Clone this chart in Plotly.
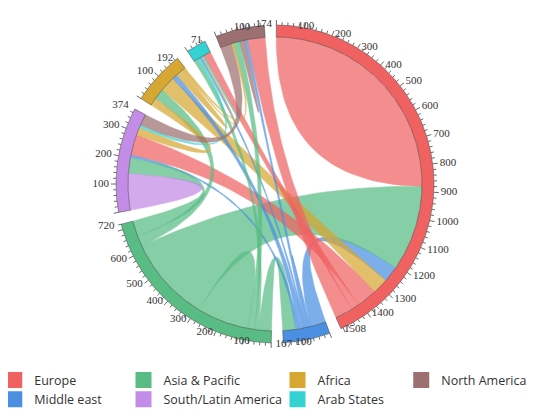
import numpy as np
import plotly.graph_objects as go

groups = ["Europe", "Middle east", "Asia & Pacific", "South/Latin America", "Africa", "Arab States", "North America"]
colors = ["#F06262", "#4A8FE2", "#58BC84", "#C38CE6", "#D6A733", "#34D2D2", "#9C7070"]
# symmetric flow matrix (diagonal = total arc used by the self flow)
flows = [
    [880, 60, 330, 80, 60, 30, 68],
    [60, 10, 50, 10, 20, 7, 10],
    [330, 50, 200, 60, 40, 15, 25],
    [80, 10, 60, 140, 30, 10, 44],
    [60, 20, 40, 30, 30, 5, 7],
    [30, 7, 15, 10, 5, 4, 0],
    [68, 10, 25, 44, 7, 0, 20],
]
orders = [
    [0, 2, 1, 4, 3, 5, 6],
    [0, 1, 6, 5, 4, 3, 2],
    [1, 5, 6, 2, 0, 4, 3],
    [3, 2, 1, 0, 4, 5, 6],
    [3, 2, 0, 1, 4, 5, 6],
    [2, 3, 1, 4, 5, 0],
    [3, 4, 2, 6, 1, 0],
]
owner = {(0, 1): 1, (0, 2): 2, (0, 4): 4, (1, 2): 2, (3, 6): 6, (3, 4): 4, (3, 5): 5}
legend_columns = [[0, 1], [2, 3], [4, 5], [6]]

totals = [sum(r) for r in flows]
CX, CY = 267, 176
RI, RO = 147, 159
gap = 4.36
k = (360 - 7 * gap) / sum(totals)
start0 = 0.5

def pt(theta, r):
    t = np.radians(theta)
    return CX + r * np.sin(t), CY - r * np.cos(t)

def arc(a, b, r):
    th = np.linspace(a, b, max(2, int(abs(b - a) * 2) + 2))
    return [pt(t, r) for t in th]

def bez(p0, p2, n=40):
    s = np.linspace(0, 1, n)
    return [((1 - u) ** 2 * p0[0] + u ** 2 * p2[0] + 2 * u * (1 - u) * CX,
             (1 - u) ** 2 * p0[1] + u ** 2 * p2[1] + 2 * u * (1 - u) * CY) for u in s]

gstart = []
a = start0
for t in totals:
    gstart.append(a)
    a += t * k + gap

slots = {}
for i in range(7):
    pos = gstart[i]
    for j in orders[i]:
        w = flows[i][j] * k
        if i == j:
            slots[(i, i, 0)] = (pos, pos + w / 2)
            slots[(i, i, 1)] = (pos + w / 2, pos + w)
        else:
            slots[(i, j)] = (pos, pos + w)
        pos += w

fig = go.Figure()

def ribbon(s1, s2, color):
    pts = arc(s1[0], s1[1], RI)
    pts += bez(pts[-1], pt(s2[0], RI))
    pts += arc(s2[0], s2[1], RI)
    pts += bez(pts[-1], pt(s1[0], RI))
    xs, ys = zip(*pts)
    fig.add_trace(go.Scatter(x=xs, y=ys, mode="lines", fill="toself", fillcolor=color,
                             opacity=0.72, line=dict(color=color, width=0.5),
                             showlegend=False, hoverinfo="skip"))

for i in range(7):
    for j in range(i, 7):
        if flows[i][j] == 0:
            continue
        c = colors[owner.get((i, j), i)]
        if i == j:
            ribbon(slots[(i, i, 0)], slots[(i, i, 1)], c)
        else:
            ribbon(slots[(i, j)], slots[(j, i)], c)

for i in range(7):
    a0, a1 = gstart[i], gstart[i] + totals[i] * k
    pts = arc(a0, a1, RO) + arc(a1, a0, RI)
    pts.append(pts[0])
    xs, ys = zip(*pts)
    fig.add_trace(go.Scatter(x=xs, y=ys, mode="lines", fill="toself", fillcolor=colors[i],
                             line=dict(color="rgba(60,60,60,0.6)", width=0.8),
                             showlegend=False, hoverinfo="skip"))

tx, ty = [], []
lx, ly, lt, lp = [], [], [], []
for i in range(7):
    for v in range(0, totals[i] + 1, 20):
        th = gstart[i] + v * k
        L = 5 if v % 100 == 0 else 3
        p0, p1 = pt(th, RO), pt(th, RO + L)
        tx += [p0[0], p1[0], None]; ty += [p0[1], p1[1], None]
    vals = [v for v in range(100, totals[i], 100) if totals[i] - v > 20] + [totals[i]]
    for v in vals:
        th = gstart[i] + v * k
        p = pt(th, RO + 7)
        lx.append(p[0]); ly.append(p[1]); lt.append(str(v))
        s = np.sin(np.radians(th)); c = np.cos(np.radians(th))
        vert = "top" if c < -0.7 else ("bottom" if c > 0.7 else "middle")
        hor = "right" if s > 0.3 else ("left" if s < -0.3 else "center")
        lp.append(f"{vert} {hor}")
fig.add_trace(go.Scatter(x=tx, y=ty, mode="lines", line=dict(color="#444", width=0.8),
                         showlegend=False, hoverinfo="skip"))
fig.add_trace(go.Scatter(x=lx, y=ly, mode="text", text=lt, textposition=lp,
                         textfont=dict(family="Liberation Serif", size=11, color="#333"),
                         showlegend=False, hoverinfo="skip"))

legend_x = [-0.025, 0.21, 0.49, 0.715]
layout_legends = {}
for c, col in enumerate(legend_columns):
    name = "legend" if c == 0 else f"legend{c + 1}"
    for i in col:
        fig.add_trace(go.Scatter(x=[None], y=[None], mode="markers", name=groups[i],
                                 marker=dict(symbol="square", size=20, color=colors[i]),
                                 legend=name))
    layout_legends[name] = dict(orientation="v", x=legend_x[c], y=0.145, yanchor="top",
                                xanchor="left", tracegroupgap=0, bgcolor="rgba(0,0,0,0)",
                                font=dict(family="Open Sans", size=12.5, color="#333"),
                                itemsizing="trace")

fig.update_layout(
    width=550, height=418, margin=dict(l=0, r=0, t=0, b=0, autoexpand=False),
    paper_bgcolor="white", plot_bgcolor="white",
    xaxis=dict(range=[0, 550], visible=False, domain=[0, 1]),
    yaxis=dict(range=[418, 0], visible=False, domain=[0, 1]),
    showlegend=True,
    **layout_legends,
)
fig.write_html("out.html")
